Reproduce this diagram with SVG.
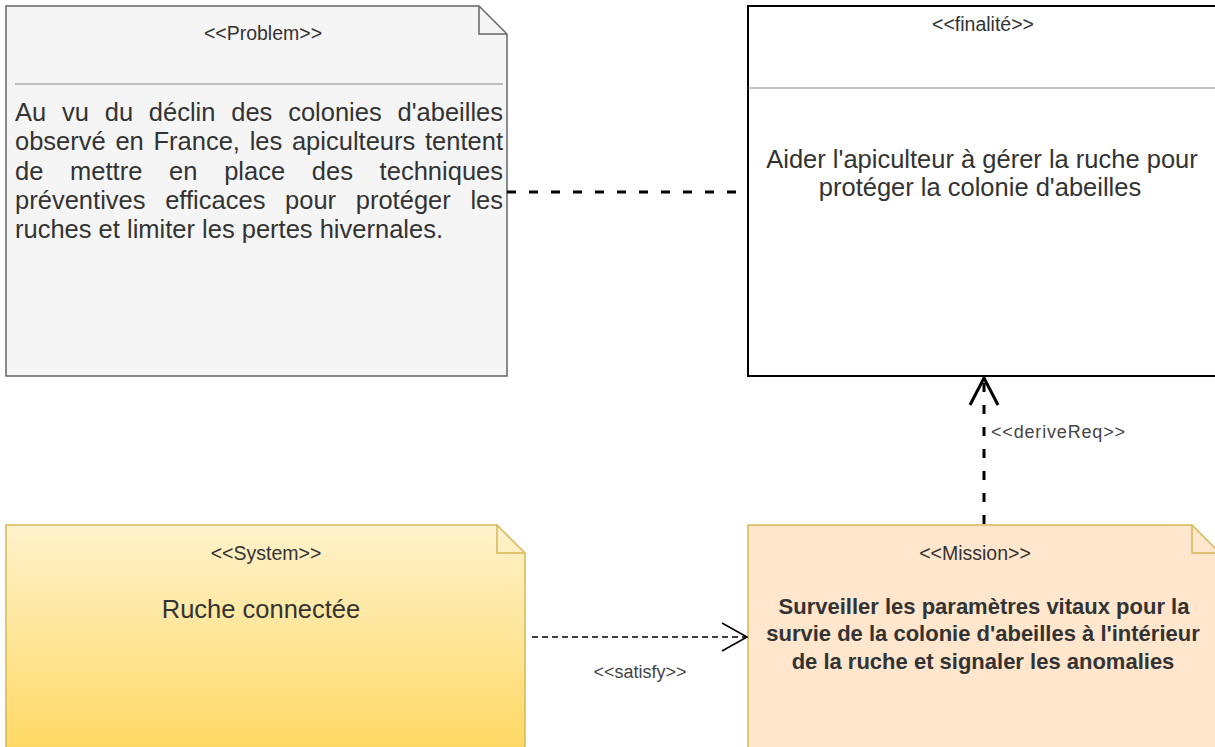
<svg xmlns="http://www.w3.org/2000/svg" width="1215" height="747" viewBox="0 0 1215 747">
  <style>
    text { font-family: "Liberation Sans", Arial, sans-serif; fill: #333333; }
    .stereo { font-size: 19.5px; text-anchor: middle; }
    .body { font-size: 25.5px; }
    .center { text-anchor: middle; }
    .bold { font-size: 22px; font-weight: bold; text-anchor: middle; }
    .label { font-size: 18px; fill: #444444; }
    .note-grey { fill: #f5f5f5; stroke: #666666; stroke-width: 1.5; }
    .note-yellow { fill: url(#sysFill); stroke: #d6b656; stroke-width: 1.5; }
    .note-orange { fill: #ffe6cc; stroke: #d6b656; stroke-width: 1.5; }
    .fold { fill: none; stroke-width: 1.5; }
    .sep { stroke: #8a8a8a; stroke-width: 1.2; }
    .dash-bold { fill: none; stroke: #000000; stroke-width: 3; stroke-dasharray: 9 13; }
    .dash-thin { fill: none; stroke: #000000; stroke-width: 1.4; stroke-dasharray: 6 4; }
  </style>
  <defs>
    <linearGradient id="sysFill" x1="0" y1="525" x2="0" y2="747" gradientUnits="userSpaceOnUse">
      <stop offset="0" stop-color="#fff2cc"/>
      <stop offset="1" stop-color="#ffd966"/>
    </linearGradient>
    <marker id="openArrowBold" markerUnits="userSpaceOnUse" viewBox="-30 -16 32 32" refX="0" refY="0" markerWidth="32" markerHeight="32" orient="auto">
      <path d="M-27,-14 L0,0 L-27,14" fill="none" stroke="#000000" stroke-width="3" stroke-dasharray="none"/>
    </marker>
    <marker id="openArrowThin" markerUnits="userSpaceOnUse" viewBox="-30 -16 32 32" refX="0" refY="0" markerWidth="32" markerHeight="32" orient="auto">
      <path d="M-25,-14 L0,0 L-25,14" fill="none" stroke="#000000" stroke-width="1.6" stroke-dasharray="none"/>
    </marker>
  </defs>

  <rect x="0" y="0" width="1215" height="747" fill="#ffffff"/>

  <!-- Problem note -->
  <g id="problem">
    <path class="note-grey" d="M6,6 H479 L507,34 V376 H6 Z"/>
    <path class="fold" stroke="#666666" d="M479,6 V34 H507"/>
    <text class="stereo" x="263" y="40">&lt;&lt;Problem&gt;&gt;</text>
    <line class="sep" x1="15" y1="84" x2="503" y2="84"/>
    <text class="body" x="15" y="121" word-spacing="8.7" textLength="488" lengthAdjust="spacing">Au vu du déclin des colonies d'abeilles</text>
    <text class="body" x="15" y="150" word-spacing="2.6" textLength="488" lengthAdjust="spacing">observé en France, les apiculteurs tentent</text>
    <text class="body" x="15" y="180" word-spacing="19.6" textLength="488" lengthAdjust="spacing">de mettre en place des techniques</text>
    <text class="body" x="15" y="209" word-spacing="12.5" textLength="488" lengthAdjust="spacing">préventives efficaces pour protéger les</text>
    <text class="body" x="15" y="238">ruches et limiter les pertes hivernales.</text>
  </g>

  <!-- Finalité block -->
  <g id="finalite">
    <rect x="748" y="6" width="472" height="370" fill="#ffffff" stroke="#000000" stroke-width="2"/>
    <text class="stereo" x="983" y="31">&lt;&lt;finalité&gt;&gt;</text>
    <line class="sep" x1="748" y1="88" x2="1215" y2="88"/>
    <text class="body center" x="982" y="168">Aider l'apiculteur à gérer la ruche pour</text>
    <text class="body center" x="980" y="196">protéger la colonie d'abeilles</text>
  </g>

  <!-- System note -->
  <g id="system">
    <path class="note-yellow" d="M6,525 H497 L525,553 V760 H6 Z"/>
    <path class="fold" stroke="#d6b656" d="M497,525 V553 H525"/>
    <text class="stereo" x="266" y="560">&lt;&lt;System&gt;&gt;</text>
    <text class="body center" x="261" y="618">Ruche connectée</text>
  </g>

  <!-- Mission note -->
  <g id="mission">
    <path class="note-orange" d="M748,525 H1192 L1220,553 V760 H748 Z"/>
    <path class="fold" stroke="#d6b656" d="M1192,525 V553 H1220"/>
    <text class="stereo" x="975" y="560">&lt;&lt;Mission&gt;&gt;</text>
    <text class="bold" x="984" y="614">Surveiller les paramètres vitaux pour la</text>
    <text class="bold" x="983" y="641">survie de la colonie d'abeilles à l'intérieur</text>
    <text class="bold" x="983" y="669">de la ruche et signaler les anomalies</text>
  </g>

  <!-- Connectors -->
  <g id="connectors">
    <line class="dash-bold" x1="507" y1="192" x2="748" y2="192"/>
    <line class="dash-bold" x1="984" y1="524" x2="984" y2="378" marker-end="url(#openArrowBold)"/>
    <text class="label" x="991" y="438" textLength="134" lengthAdjust="spacing">&lt;&lt;deriveReq&gt;&gt;</text>
    <line class="dash-thin" x1="532" y1="637" x2="747" y2="637" marker-end="url(#openArrowThin)"/>
    <text class="label" x="640" y="678" text-anchor="middle">&lt;&lt;satisfy&gt;&gt;</text>
  </g>
</svg>
